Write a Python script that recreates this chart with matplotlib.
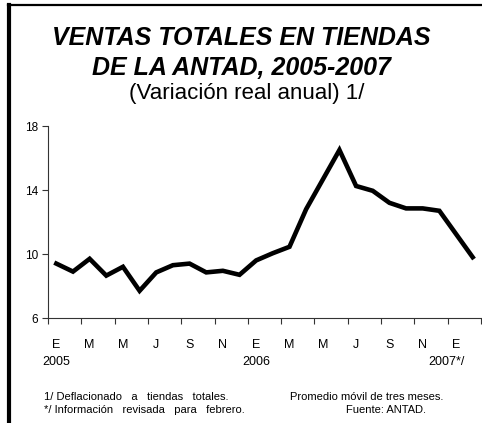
import matplotlib
matplotlib.use("Agg")
import matplotlib.pyplot as plt
from matplotlib.lines import Line2D

plt.rcParams["font.family"] = ["Liberation Sans", "DejaVu Sans"]

# variacion real anual, promedio movil de tres meses, ene-2005 a feb-2007
values = [9.4, 8.9, 9.7, 8.65, 9.2, 7.7, 8.85, 9.3, 9.4, 8.85, 8.95, 8.7,
          9.6, 10.05, 10.45, 12.8, 14.65, 16.5, 14.25, 13.95, 13.2, 12.85,
          12.85, 12.7, 11.25, 9.8]
month_labels = ["E", "M", "M", "J", "S", "N", "E", "M", "M", "J", "S", "N", "E"]
year_labels = {0: "2005", 12: "2006", 24: "2007*/"}
y_ticks = [6, 10, 14, 18]

W, H = 482, 423
fig = plt.figure(figsize=(W / 100, H / 100), dpi=100)

# frame of the original box (only top and left edges show)
fig.add_artist(Line2D([8 / W, 1], [1 - 5.5 / H, 1 - 5.5 / H], color="black", lw=1.6))
fig.add_artist(Line2D([9 / W, 9 / W], [0, 1 - 5 / H], color="black", lw=3))

ax = fig.add_axes([48 / W, 1 - 318 / H, (481 - 48) / W, (318 - 126) / H])
n = len(values)
x = [i + 0.5 for i in range(n)]
ax.plot(x, values, color="black", lw=3.3, solid_joinstyle="miter")

ax.set_xlim(0, n)
ax.set_ylim(6, 18)
ax.set_yticks(y_ticks)
ax.set_yticklabels([str(t) for t in y_ticks], fontsize=8.5)
ax.set_xticks(range(0, n + 1, 2))
ax.set_xticklabels([])
ax.tick_params(axis="both", direction="out", length=4, width=0.8, color="#333333", pad=3)
for s in ["top", "right"]:
    ax.spines[s].set_visible(False)
for s in ["left", "bottom"]:
    ax.spines[s].set_color("#333333")
    ax.spines[s].set_linewidth(0.8)

for i, lab in enumerate(month_labels):
    ax.text(2 * i + 0.5, -0.14, lab, transform=ax.get_xaxis_transform(),
            ha="center", va="center", fontsize=9)
for i, lab in year_labels.items():
    xx = i + 0.5 if i < 24 else i - 0.1
    ax.text(xx, -0.23, lab, transform=ax.get_xaxis_transform(),
            ha="center", va="center", fontsize=9)

fig.text(0.5, 1 - 38 / H, "VENTAS TOTALES EN TIENDAS", ha="center", va="center",
         fontsize=18, fontweight="bold", fontstyle="italic")
fig.text(0.5, 1 - 68 / H, "DE LA ANTAD, 2005-2007", ha="center", va="center",
         fontsize=18, fontweight="bold", fontstyle="italic")
fig.text(247 / W, 1 - 93 / H, "(Variación real anual) 1/", ha="center", va="center",
         fontsize=16)

fig.text(44 / W, 1 - 397 / H, "1/ Deflacionado   a   tiendas   totales.",
         ha="left", va="center", fontsize=8)
fig.text(44 / W, 1 - 410 / H, "*/ Información   revisada   para   febrero.",
         ha="left", va="center", fontsize=8)
fig.text(290 / W, 1 - 397 / H, "Promedio móvil de tres meses.",
         ha="left", va="center", fontsize=8)
fig.text(346 / W, 1 - 410 / H, "Fuente: ANTAD.",
         ha="left", va="center", fontsize=8)

fig.savefig("out.png", dpi=100)
